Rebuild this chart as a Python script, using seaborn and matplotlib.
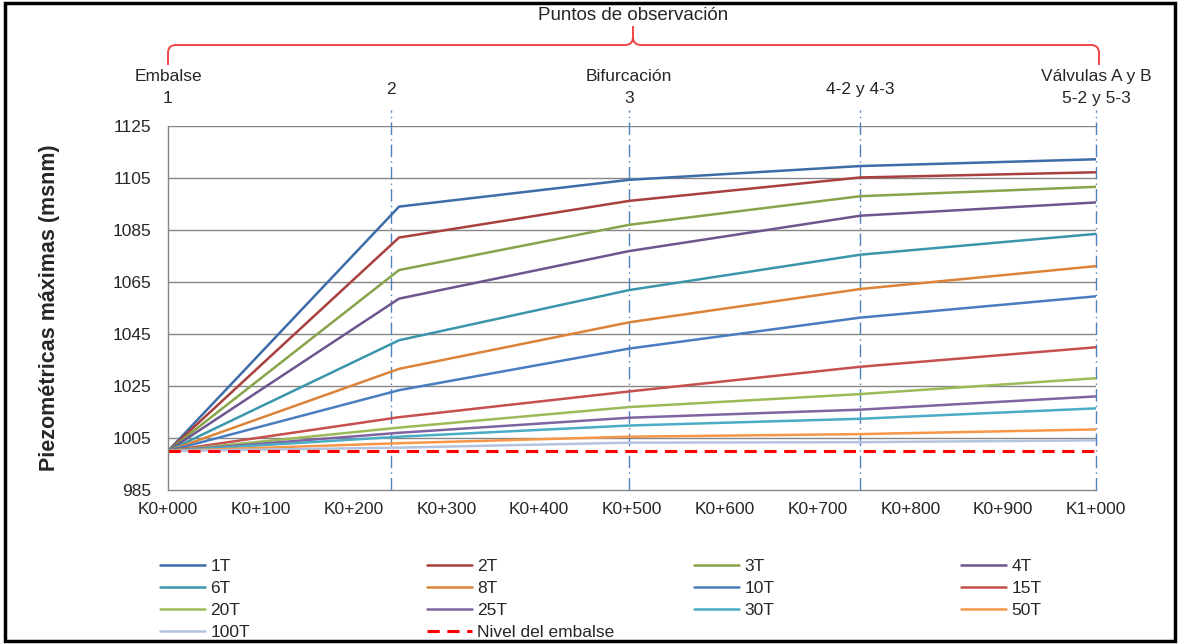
import numpy as np
import pandas as pd
import seaborn as sns
import matplotlib.pyplot as plt
from matplotlib.path import Path
from matplotlib.patches import PathPatch, Rectangle

# chainage of each observation point (m)
x_pos = [0, 249, 497, 746, 1000]

# max piezometric level (msnm) for each closing time
s_1T = [1000, 1094.0, 1104.3, 1109.6, 1112.2]
s_2T = [1000, 1082.1, 1096.2, 1105.2, 1107.2]
s_3T = [1000, 1069.6, 1087.0, 1098.0, 1101.6]
s_4T = [1000, 1058.6, 1076.9, 1090.5, 1095.6]
s_6T = [1000, 1042.6, 1061.9, 1075.5, 1083.5]
s_8T = [1000, 1031.6, 1049.5, 1062.3, 1071.1]
s_10T = [1000, 1023.4, 1039.4, 1051.3, 1059.5]
s_15T = [1000, 1013.0, 1022.9, 1032.4, 1039.9]
s_20T = [1000, 1009.0, 1016.9, 1021.9, 1028.0]
s_25T = [1000, 1007.0, 1012.8, 1015.9, 1021.0]
s_30T = [1000, 1005.5, 1009.8, 1012.4, 1016.4]
s_50T = [1000, 1003.0, 1005.5, 1006.5, 1008.3]
s_100T = [1000, 1001.3, 1003.2, 1003.4, 1004.1]

series_names = ["1T", "2T", "3T", "4T", "6T", "8T", "10T", "15T",
                "20T", "25T", "30T", "50T", "100T"]
series_values = [s_1T, s_2T, s_3T, s_4T, s_6T, s_8T, s_10T, s_15T,
                 s_20T, s_25T, s_30T, s_50T, s_100T]

nivel_embalse = 1000
nivel_x = [0, 1000]

# observation points (top labels)
obs_x = [0, 240, 497, 746, 1000]
obs_top = ["Embalse", "", "Bifurcación", "", "Válvulas A y B"]
obs_bottom = ["1", "2", "3", "4-2 y 4-3", "5-2 y 5-3"]

xticks = list(range(0, 1001, 100))
xtick_labels = ["K0+000", "K0+100", "K0+200", "K0+300", "K0+400", "K0+500",
                "K0+600", "K0+700", "K0+800", "K0+900", "K1+000"]
yticks = list(range(985, 1126, 20))

colors = ["#3D6CA8", "#A8403E", "#88A44A", "#6E558F", "#3B96AC", "#DB8439",
          "#4A7DC0", "#C5504D", "#9BBB59", "#8064A2", "#4BACC6", "#F79646",
          "#B3C4E0"]

rows = []
for name, vals in zip(series_names, series_values):
    for x, v in zip(x_pos, vals):
        rows.append({"serie": name, "x": x, "valor": v})
df = pd.DataFrame(rows)

sns.set_style("white")
plt.rcParams["font.family"] = ["Liberation Sans", "DejaVu Sans"]

W, H = 1179, 644
fig = plt.figure(figsize=(W / 100, H / 100), dpi=100)

def fx(px):
    return px / W

def fy(py):
    return 1 - py / H

FS = 12.5

ax_l, ax_r, ax_t, ax_b = 168, 1096, 126, 490
ax = fig.add_axes([fx(ax_l), fy(ax_b), fx(ax_r - ax_l), (ax_b - ax_t) / H])

sns.lineplot(data=df, x="x", y="valor", hue="serie", hue_order=series_names,
             palette=colors, linewidth=1.8, ax=ax)
sns.lineplot(x=nivel_x, y=[nivel_embalse] * len(nivel_x), color="#FF0000",
             linewidth=2.2, linestyle=(0, (4, 2.5)), label="Nivel del embalse", ax=ax)

ax.set_xlim(0, 1000)
ax.set_ylim(985, 1125)
ax.set_xticks(xticks)
ax.set_xticklabels(xtick_labels, fontsize=FS)
ax.set_yticks(yticks)
ax.tick_params(axis="y", labelsize=FS, pad=5)
ax.tick_params(axis="x", pad=2)
ax.tick_params(axis="both", direction="out", length=7, color="#868686", width=1)
ax.set_xlabel("")
ax.set_ylabel("Piezométricas máximas (msnm)", fontsize=15.5, fontweight="bold", labelpad=38)
for y in yticks[1:]:
    ax.axhline(y, color="#868686", lw=1, zorder=0)
for side in ["top", "right"]:
    ax.spines[side].set_visible(False)
for side in ["left", "bottom"]:
    ax.spines[side].set_color("#868686")
    ax.spines[side].set_linewidth(1)

# vertical dash-dot lines at observation points
for x in obs_x[1:]:
    ax.axvline(x, ymin=0, ymax=1.045, color="#4F81BD", lw=1,
               linestyle=(0, (9, 3, 1, 3)), clip_on=False, zorder=1)

# top labels
tr = ax.get_xaxis_transform()
def ay(py):
    return 1 + (ax_t - py) / (ax_b - ax_t)
for x, top, bot in zip(obs_x, obs_top, obs_bottom):
    if top:
        ax.text(x, ay(76), top, transform=tr, ha="center", va="center", fontsize=FS)
        ax.text(x, ay(98), bot, transform=tr, ha="center", va="center", fontsize=FS)
    else:
        ax.text(x, ay(89), bot, transform=tr, ha="center", va="center", fontsize=FS)

# curly brace
bl, br, bc, by, bend, btip = 168, 1099, 633, 45, 65, 26
r = 8
left = Path([(fx(bl), fy(bend)), (fx(bl), fy(by + r)), (fx(bl), fy(by)), (fx(bl + r), fy(by)),
             (fx(bc - r), fy(by)), (fx(bc), fy(by)), (fx(bc), fy(by - r)), (fx(bc), fy(btip))],
            [Path.MOVETO, Path.LINETO, Path.CURVE3, Path.CURVE3,
             Path.LINETO, Path.CURVE3, Path.CURVE3, Path.LINETO])
right = Path([(fx(br), fy(bend)), (fx(br), fy(by + r)), (fx(br), fy(by)), (fx(br - r), fy(by)),
              (fx(bc + r), fy(by)), (fx(bc), fy(by)), (fx(bc), fy(by - r))],
             [Path.MOVETO, Path.LINETO, Path.CURVE3, Path.CURVE3,
              Path.LINETO, Path.CURVE3, Path.CURVE3])
for p in (left, right):
    fig.add_artist(PathPatch(p, transform=fig.transFigure, fill=False,
                             edgecolor="#F04545", lw=1.4))
fig.text(fx(bc), fy(15), "Puntos de observación", ha="center", va="center", fontsize=13.5)

# legend laid out row by row in 4 columns
handles, labels = ax.get_legend_handles_labels()
ax.get_legend().remove()
hmap = dict(zip(labels, handles))
order = [["1T", "6T", "20T", "100T"],
         ["2T", "8T", "25T", "Nivel del embalse"],
         ["3T", "10T", "30T"],
         ["4T", "15T", "50T"]]
col_x = [160, 427, 694, 961]
for cx, col in zip(col_x, order):
    fig.legend([hmap[k] for k in col], col, loc="upper left",
               bbox_to_anchor=(fx(cx), fy(559)), frameon=False, fontsize=FS,
               handlelength=2.6, handletextpad=0.3, labelspacing=0.4,
               borderpad=0, borderaxespad=0)

# outer frame
fig.add_artist(Rectangle((fx(5), fy(641)), fx(1170), 638 / H, transform=fig.transFigure,
                         fill=False, edgecolor="black", lw=2.5))

fig.savefig("out.png", dpi=100)
